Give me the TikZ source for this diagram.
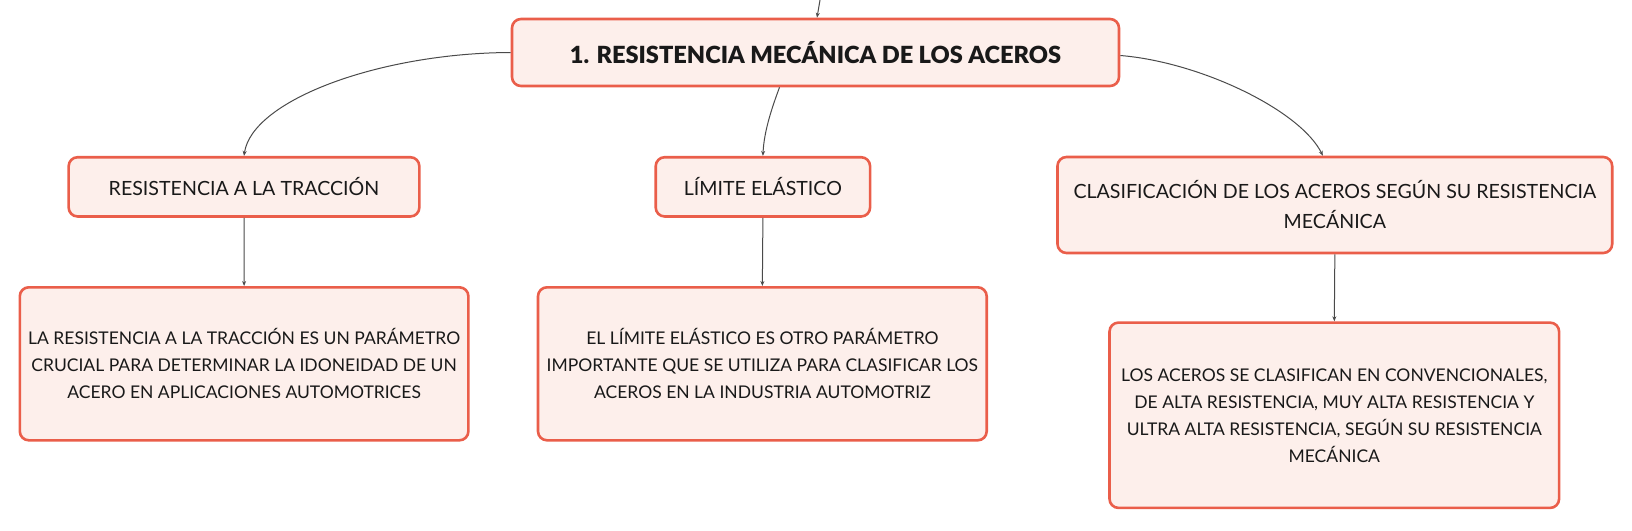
\documentclass[tikz,border=0pt]{standalone}
\usepackage{fontspec}
\setmainfont{Lato}
\newfontfamily\titlefont{Lato Black}
\usetikzlibrary{arrows.meta}
\definecolor{boxfill}{HTML}{FDEFEB}
\definecolor{boxline}{HTML}{EA5E4A}
\definecolor{conn}{HTML}{4A4A4A}
\begin{document}
\begin{tikzpicture}[x=1pt,y=-1pt,
  box/.style={draw=boxline, fill=boxfill, line width=2.6pt, rounded corners=9pt,
    inner sep=0pt, align=center, text=black!90},
  leaftext/.style={font=\fontsize{17.5}{27}\selectfont},
  childtext/.style={font=\fontsize{19.6}{30}\selectfont},
  link/.style={draw=conn, line width=1pt, -{Stealth[length=5pt,width=4pt]}}]
\useasboundingbox (0,0) rectangle (1632,530);
\node[box, minimum width=607, minimum height=67, font=\titlefont\fontsize{23.6}{26}\selectfont]
  (top) at (815.5,52.5) {1. RESISTENCIA MECÁNICA DE LOS ACEROS};
\node[box, childtext, minimum width=350.7, minimum height=59.3] (c1) at (244,186.85)
  {RESISTENCIA A LA TRACCIÓN};
\node[box, childtext, minimum width=214.4, minimum height=59.3] (c2) at (762.9,186.85)
  {LÍMITE ELÁSTICO};
\node[box, childtext, minimum width=554.7, minimum height=96] (c3) at (1334.85,205)
  {CLASIFICACIÓN DE LOS ACEROS SEGÚN SU RESISTENCIA\\MECÁNICA};
\node[box, leaftext, minimum width=448.6, minimum height=153] (l1) at (244.1,363.8)
  {LA RESISTENCIA A LA TRACCIÓN ES UN PARÁMETRO\\CRUCIAL PARA DETERMINAR LA IDONEIDAD DE UN\\ACERO EN APLICACIONES AUTOMOTRICES};
\node[box, leaftext, minimum width=448.7, minimum height=153] (l2) at (762.35,363.8)
  {EL LÍMITE ELÁSTICO ES OTRO PARÁMETRO\\IMPORTANTE QUE SE UTILIZA PARA CLASIFICAR LOS\\ACEROS EN LA INDUSTRIA AUTOMOTRIZ};
\node[box, leaftext, minimum width=449.6, minimum height=185.3] (l3) at (1334.3,415.25)
  {LOS ACEROS SE CLASIFICAN EN CONVENCIONALES,\\DE ALTA RESISTENCIA, MUY ALTA RESISTENCIA Y\\ULTRA ALTA RESISTENCIA, SEGÚN SU RESISTENCIA\\MECÁNICA};
\coordinate (in) at (820,0);
\draw[link] (in) -- ([xshift=1.5pt]top.north);
\draw[link] (top.west) .. controls (380,53) and (252,100) .. (c1.north);
\draw[link] ([xshift=-36pt]top.south) .. controls (773,105) and (764,130) .. (c2.north);
\draw[link] ([yshift=-3pt]top.east) .. controls (1200,62) and (1300,110) .. ([xshift=-12pt]c3.north);
\draw[link] (c1.south) -- (l1.north);
\draw[link] (c2.south) -- (l2.north);
\draw[link] (c3.south) -- (l3.north);
\end{tikzpicture}
\end{document}
